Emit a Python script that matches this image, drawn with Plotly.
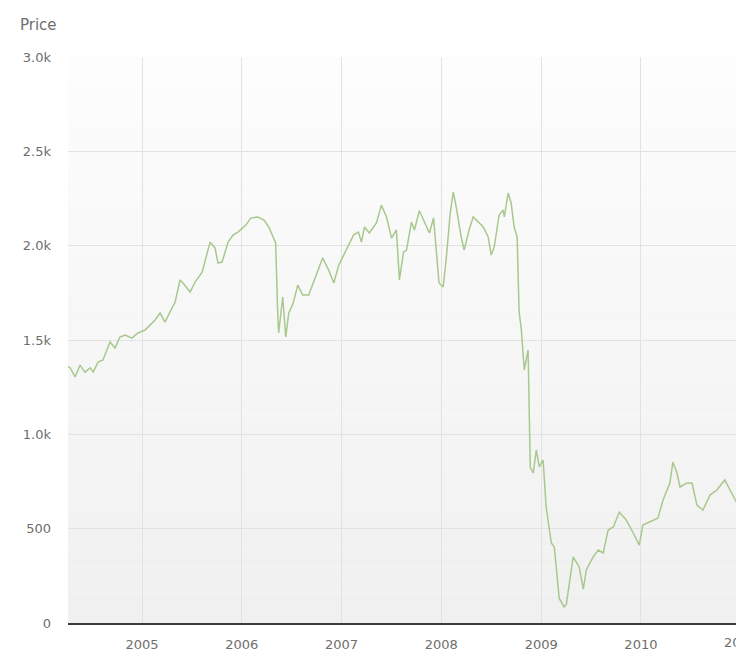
import plotly.graph_objects as go
import pandas as pd

# price series
dates = [
    "2004-04-05", "2004-04-13", "2004-05-01", "2004-05-19", "2004-06-06", "2004-06-25",
    "2004-07-06", "2004-07-24", "2004-08-11", "2004-08-26", "2004-09-06", "2004-09-24",
    "2004-10-12", "2004-10-31", "2004-11-25", "2004-12-17", "2005-01-12", "2005-01-30",
    "2005-02-18", "2005-03-08", "2005-03-26", "2005-04-13", "2005-05-02", "2005-05-20",
    "2005-05-31", "2005-06-26", "2005-07-14", "2005-08-09", "2005-09-07", "2005-09-25",
    "2005-10-06", "2005-10-21", "2005-11-12", "2005-11-30", "2005-12-18", "2006-01-16",
    "2006-02-03", "2006-03-01", "2006-03-23", "2006-04-10", "2006-04-28", "2006-05-05",
    "2006-05-13", "2006-05-16", "2006-05-31", "2006-06-11", "2006-06-22", "2006-07-07",
    "2006-07-25", "2006-08-12", "2006-09-03", "2006-09-29", "2006-10-24", "2006-11-15",
    "2006-12-04", "2006-12-22", "2007-01-19", "2007-02-14", "2007-03-04", "2007-03-15",
    "2007-03-26", "2007-04-13", "2007-05-09", "2007-05-27", "2007-06-15", "2007-07-03",
    "2007-07-21", "2007-07-29", "2007-08-01", "2007-08-16", "2007-08-27", "2007-09-14",
    "2007-09-25", "2007-10-13", "2007-11-01", "2007-11-19", "2007-12-04", "2007-12-15",
    "2007-12-24", "2008-01-08", "2008-01-19", "2008-02-03", "2008-02-14", "2008-02-25",
    "2008-03-14", "2008-03-25", "2008-04-12", "2008-04-27", "2008-05-15", "2008-06-03",
    "2008-06-21", "2008-07-02", "2008-07-13", "2008-07-31", "2008-08-15", "2008-08-19",
    "2008-09-02", "2008-09-13", "2008-09-24", "2008-10-05", "2008-10-12", "2008-10-20",
    "2008-10-31", "2008-11-14", "2008-11-22", "2008-12-03", "2008-12-14", "2008-12-25",
    "2009-01-08", "2009-01-19", "2009-02-07", "2009-02-18", "2009-03-08", "2009-03-26",
    "2009-04-03", "2009-04-28", "2009-05-20", "2009-06-04", "2009-06-15", "2009-07-10",
    "2009-07-29", "2009-08-16", "2009-09-03", "2009-09-22", "2009-10-14", "2009-11-08",
    "2009-12-04", "2009-12-26", "2010-01-08", "2010-02-03", "2010-03-04", "2010-03-23",
    "2010-04-17", "2010-04-28", "2010-05-13", "2010-05-24", "2010-06-18", "2010-07-07",
    "2010-07-25", "2010-08-16", "2010-09-11", "2010-10-06", "2010-11-04", "2010-11-23",
    "2010-12-15", "2010-12-28",
]
prices = [
    1360, 1352, 1304, 1367, 1330, 1352,
    1330, 1383, 1394, 1447, 1489, 1457,
    1516, 1526, 1510, 1537, 1553, 1579,
    1606, 1643, 1595, 1648, 1700, 1818,
    1802, 1754, 1807, 1860, 2019, 1988,
    1908, 1913, 2019, 2056, 2072, 2109,
    2146, 2152, 2136, 2099, 2040, 2014,
    1622, 1537, 1728, 1516, 1643, 1690,
    1791, 1738, 1738, 1834, 1935, 1871,
    1802, 1897, 1977, 2056, 2072, 2019,
    2099, 2067, 2120, 2215, 2152, 2040,
    2083, 1887, 1818, 1966, 1977, 2125,
    2083, 2185, 2120, 2067, 2147, 1940,
    1802, 1781, 1924, 2173, 2284, 2205,
    2046, 1977, 2083, 2152, 2125, 2099,
    2046, 1950, 1993, 2162, 2189, 2152,
    2279, 2226, 2099, 2046, 1650, 1560,
    1341, 1447, 827, 795, 917, 827,
    864, 615, 424, 403, 130, 85,
    100, 350, 297, 180, 281, 350,
    387, 371, 493, 509, 588, 546,
    477, 413, 519, 535, 556, 652,
    742, 853, 795, 721, 742, 742,
    625, 599, 678, 705, 758, 705,
    641, 610,
]

y_tickvals = [0, 500, 1000, 1500, 2000, 2500, 3000]
y_ticktext = ["0", "500", "1.0k", "1.5k", "2.0k", "2.5k", "3.0k"]
x_start = "2004-04-05"
x_end = "2010-12-15"
cut_year = "2011"  # label that is half cut off at the right edge

font = "DejaVu Sans"
label_color = "#6e6e6e"

fig = go.Figure()
fig.add_trace(go.Scatter(
    x=dates, y=prices, mode="lines",
    line=dict(color="#a8c88d", width=1.5),
    showlegend=False, hoverinfo="x+y",
))

# soft vertical gradient behind the plot: grey at the bottom, white at the top
n_bands = 60
for i in range(n_bands):
    c = int(round(240 + (253 - 240) * i / (n_bands - 1)))
    fig.add_shape(type="rect", xref="paper", yref="paper",
                  x0=0, x1=1, y0=i / n_bands, y1=(i + 1) / n_bands,
                  fillcolor=f"rgb({c},{c},{c})", line_width=0, layer="below")

start, end = pd.Timestamp(x_start), pd.Timestamp(x_end)
cut_pos = (pd.Timestamp(cut_year + "-01-01") - start) / (end - start)

fig.add_annotation(text="Price", xref="paper", yref="paper", x=-0.075, y=1.057,
                   xanchor="left", yanchor="middle", showarrow=False,
                   font=dict(family=font, size=15, color=label_color))
fig.add_annotation(text=cut_year, xref="paper", yref="paper", x=cut_pos, y=0,
                   xanchor="center", yanchor="top", yshift=-10, showarrow=False,
                   font=dict(family=font, size=13, color=label_color))

fig.update_xaxes(
    type="date", range=[x_start, x_end],
    tick0="2005-01-01", dtick="M12", tickformat="%Y",
    showgrid=True, gridcolor="#e2e2e2", gridwidth=1,
    showline=True, linecolor="#3c3c3c", linewidth=2,
    ticks="", ticklabelstandoff=8,
    tickfont=dict(family=font, size=13, color=label_color),
)
fig.update_yaxes(
    range=[0, 3000], tickvals=y_tickvals, ticktext=y_ticktext,
    showgrid=True, gridcolor="#e2e2e2", gridwidth=1,
    zeroline=False, showline=False, ticks="", ticklabelstandoff=16,
    tickfont=dict(family=font, size=13, color=label_color),
)
fig.update_layout(
    width=736, height=652,
    margin=dict(l=68, r=0, t=57, b=29),
    paper_bgcolor="white", plot_bgcolor="rgba(0,0,0,0)",
    font=dict(family=font, color=label_color),
)

# drop the default page margin so the figure sits at the window's corner
fig.write_html("out.html", config={"displayModeBar": False},
               post_script="document.body.style.margin='0px';")
